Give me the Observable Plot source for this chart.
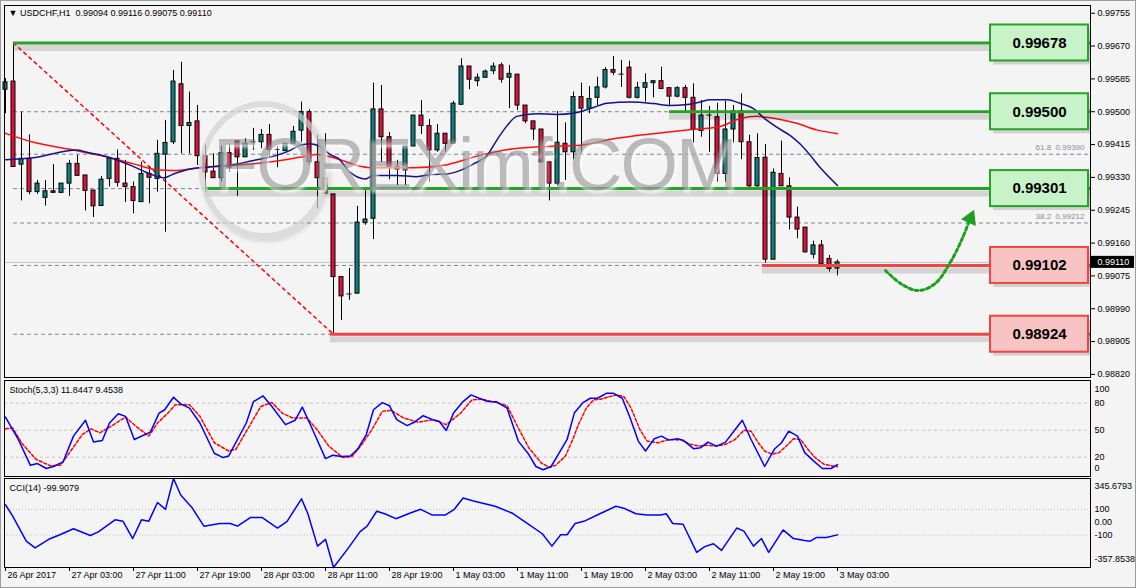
<!DOCTYPE html>
<html>
<head>
<meta charset="utf-8">
<script src="https://cdn.jsdelivr.net/npm/d3@7"></script>
<script src="https://cdn.jsdelivr.net/npm/@observablehq/plot@0.6"></script>
<style>
  html, body { margin: 0; padding: 0; background: #f0f0f0; }
  #chart { position: relative; width: 1136px; height: 588px; overflow: hidden; background: #f4f4f4; font-family: "Liberation Sans", Arial, sans-serif; }
  .panel { position: absolute; left: 0; }
  .panel svg { display: block; overflow: visible; }
  #border { position: absolute; left: 0; top: 0; right: 0; bottom: 0; border: 1px solid #9c9c9c; pointer-events: none; }
  #wm-circle { position: absolute; left: 199px; top: 101px; width: 118px; height: 126px; border-radius: 50%; border: 6px solid rgba(210,210,210,0.7); box-shadow: 2px 3px 4px rgba(0,0,0,0.12); }
  #wm-text { position: absolute; left: 213px; top: 128px; font-size: 74px; line-height: 74px; letter-spacing: -2px; color: rgba(110,110,110,0.45); font-family: "Liberation Sans", Arial, sans-serif; text-shadow: 2px 3px 3px rgba(255,255,255,0.6); white-space: nowrap; }
</style>
</head>
<body>
<div id="chart"></div>
<script>
// ---------------- data ----------------
const open = [0.99557,0.99578,0.99363,0.99378,0.99292,0.99277,0.99294,0.99290,0.99314,0.99365,
0.99335,0.99296,0.99256,0.99326,0.99378,0.99314,0.99305,0.99266,0.99339,0.99326,
0.99389,0.99421,0.99571,0.99463,0.99475,0.99385,0.99345,0.99328,0.99393,0.99423,
0.99382,0.99421,0.99421,0.99440,0.99401,0.99398,0.99417,0.99451,0.99499,0.99369,
0.99328,0.99286,0.99072,0.99027,0.99029,0.99212,0.99223,0.99506,0.99434,0.99357,
0.99348,0.99410,0.99490,0.99463,0.99400,0.99443,0.99417,0.99518,0.99617,0.99579,
0.99588,0.99605,0.99620,0.99588,0.99596,0.99516,0.99475,0.99454,0.99369,0.99314,
0.99417,0.99395,0.99538,0.99508,0.99536,0.99563,0.99608,0.99596,0.99614,0.99536,
0.99562,0.99574,0.99579,0.99561,0.99539,0.99561,0.99536,0.99450,0.99490,0.99486,
0.99339,0.99454,0.99501,0.99421,0.99307,0.99381,0.99117,0.99339,0.99307,0.99226,
0.99200,0.99130,0.99154,0.99119,0.99094];
const high = [0.99586,0.99678,0.99499,0.99440,0.99322,0.99322,0.99363,0.99314,0.99374,0.99387,
0.99335,0.99296,0.99332,0.99382,0.99401,0.99374,0.99318,0.99369,0.99357,0.99426,
0.99477,0.99607,0.99628,0.99551,0.99516,0.99413,0.99391,0.99410,0.99417,0.99423,
0.99430,0.99457,0.99454,0.99467,0.99410,0.99418,0.99462,0.99525,0.99505,0.99439,
0.99443,0.99286,0.99072,0.99094,0.99255,0.99300,0.99574,0.99568,0.99446,0.99374,
0.99410,0.99490,0.99529,0.99480,0.99467,0.99443,0.99527,0.99637,0.99617,0.99598,
0.99608,0.99626,0.99626,0.99620,0.99596,0.99516,0.99475,0.99454,0.99369,0.99501,
0.99471,0.99551,0.99574,0.99565,0.99589,0.99614,0.99643,0.99633,0.99631,0.99576,
0.99598,0.99581,0.99615,0.99561,0.99565,0.99568,0.99572,0.99529,0.99514,0.99522,
0.99527,0.99516,0.99546,0.99439,0.99443,0.99415,0.99352,0.99424,0.99329,0.99253,
0.99200,0.99165,0.99167,0.99128,0.99116];
const low = [0.99495,0.99356,0.99269,0.99285,0.99286,0.99256,0.99290,0.99288,0.99281,0.99334,
0.99243,0.99226,0.99256,0.99305,0.99305,0.99265,0.99236,0.99266,0.99262,0.99292,
0.99188,0.99415,0.99391,0.99391,0.99361,0.99292,0.99328,0.99318,0.99343,0.99281,
0.99382,0.99400,0.99404,0.99382,0.99355,0.99397,0.99417,0.99421,0.99361,0.99249,
0.99288,0.98924,0.98960,0.99012,0.99029,0.99206,0.99169,0.99369,0.99324,0.99309,
0.99309,0.99410,0.99441,0.99318,0.99395,0.99395,0.99417,0.99518,0.99557,0.99565,
0.99588,0.99596,0.99574,0.99508,0.99503,0.99469,0.99426,0.99367,0.99269,0.99309,
0.99322,0.99376,0.99391,0.99495,0.99516,0.99559,0.99594,0.99563,0.99533,0.99533,
0.99525,0.99536,0.99557,0.99516,0.99536,0.99499,0.99419,0.99434,0.99395,0.99318,
0.99318,0.99419,0.99376,0.99301,0.99301,0.99108,0.99117,0.99307,0.99194,0.99171,
0.99134,0.99119,0.99102,0.99085,0.99075];
const close = [0.99576,0.99357,0.99378,0.99292,0.99314,0.99294,0.99290,0.99314,0.99365,0.99334,
0.99295,0.99255,0.99324,0.99378,0.99316,0.99305,0.99269,0.99339,0.99329,0.99391,
0.99419,0.99578,0.99463,0.99471,0.99385,0.99343,0.99328,0.99393,0.99354,0.99382,
0.99417,0.99421,0.99440,0.99401,0.99401,0.99417,0.99448,0.99499,0.99369,0.99328,
0.99288,0.99072,0.99022,0.99027,0.99213,0.99221,0.99506,0.99434,0.99357,0.99350,
0.99410,0.99490,0.99463,0.99400,0.99443,0.99417,0.99521,0.99617,0.99583,0.99588,
0.99604,0.99617,0.99583,0.99598,0.99516,0.99475,0.99454,0.99369,0.99314,0.99420,
0.99395,0.99538,0.99508,0.99533,0.99563,0.99608,0.99601,0.99596,0.99536,0.99562,
0.99574,0.99579,0.99559,0.99539,0.99561,0.99536,0.99454,0.99490,0.99490,0.99339,
0.99454,0.99501,0.99421,0.99307,0.99380,0.99117,0.99342,0.99307,0.99226,0.99195,
0.99136,0.99154,0.99105,0.99093,0.99110];

// moving averages: [bar, price]
const maFast = [[0,0.99376],[3.5,0.99381],[8.9,0.99401],[10.2,0.99395],[13.1,0.99381],[16,0.99358],[18.1,0.99339],[19.8,0.99329],[21,0.99339],[23.1,0.99352],[26,0.99358],[28.5,0.99363],[31,0.99374],[33.9,0.99387],[35.6,0.99400],[36.8,0.99413],[38.1,0.99417],[39.3,0.99410],[40.6,0.99389],[41.6,0.99379],[43.1,0.99343],[45,0.99326],[46,0.99335],[48.9,0.99335],[51.4,0.99332],[53.1,0.99337],[55.2,0.99339],[57.3,0.99352],[58.5,0.99365],[60.2,0.99387],[61.4,0.99426],[62.7,0.99464],[63.9,0.99488],[66.4,0.99495],[68.9,0.99493],[71,0.99496],[73.1,0.99508],[75.2,0.99522],[78.1,0.99525],[81,0.99521],[83.1,0.99516],[85.2,0.99519],[86.8,0.99525],[88.1,0.99531],[90.2,0.99531],[91.8,0.99522],[93.5,0.99508],[94.8,0.99484],[96.4,0.99460],[98.1,0.99438],[99.3,0.99417],[100.6,0.99387],[101.8,0.99356],[104,0.99309]];
const maSlow = [[0,0.99444],[3.5,0.99421],[7.7,0.99404],[11.8,0.99387],[16,0.99365],[18.9,0.99350],[21,0.99348],[24.3,0.99355],[28.5,0.99361],[32.7,0.99369],[36.8,0.99382],[38.9,0.99389],[41.8,0.99376],[43.9,0.99361],[45.6,0.99355],[51,0.99355],[55.2,0.99363],[59.3,0.99387],[63.5,0.99404],[67.7,0.99410],[71.8,0.99413],[76,0.99430],[78.1,0.99436],[81,0.99443],[85.2,0.99453],[89.3,0.99462],[91.8,0.99482],[93.9,0.99488],[96.4,0.99482],[98.9,0.99470],[101.4,0.99453],[104,0.99443]];

// stochastic %K and %D, CCI: [bar, value]
const stochK = [[0,64.6],[1.6,39.7],[3.1,11.2],[4,13.0],[5.1,7.5],[6,9.7],[7.2,14.9],[8.5,43.4],[10,61.0],[11,36.8],[12.1,38.6],[13,58.0],[14.1,68.3],[15,65.4],[16.1,39.7],[18.1,47.8],[19.2,69.0],[19.9,72.7],[21,86.6],[21.9,79.3],[23,74.5],[24.3,58.0],[26.1,24.4],[27.2,19.6],[27.9,21.4],[30.1,58.0],[31,81.8],[32.2,88.1],[33.3,76.3],[35,56.2],[36.2,61.0],[37.1,75.6],[38.2,54.4],[40,18.5],[40.9,22.2],[42,20.7],[43.1,21.4],[44,28.8],[45.1,45.2],[46,72.7],[47.1,80.7],[48,77.1],[48.9,61.7],[50.2,55.1],[51.1,58.8],[52.2,66.1],[53.4,61.7],[54.2,59.9],[55.1,49.6],[56,69.0],[57.2,81.8],[58.2,89.2],[59.2,85.5],[60.3,81.8],[61.4,81.5],[62.7,74.5],[64.1,37.9],[65.4,23.3],[66.3,9.7],[67.2,6.1],[68.2,9.7],[69.1,23.3],[70.2,39.7],[71.1,69.0],[72.2,80.7],[73.1,85.5],[74,85.5],[75.1,91.0],[76,91.0],[77.1,85.5],[78,65.4],[79.1,37.9],[80,26.9],[81.1,40.5],[82,43.4],[82.9,39.0],[84,40.5],[84.7,39.0],[86,29.5],[86.9,30.6],[87.8,36.8],[88.9,32.4],[90,36.8],[90.9,47.1],[92.1,61.0],[93.2,39.7],[94.9,9.7],[96.1,28.8],[97,36.1],[97.9,48.9],[99,43.4],[99.9,25.1],[101,16.0],[102.1,7.5],[103.2,7.5],[104,11.8]];
const stochD = [[0,51.5],[0.9,52.5],[2,36.1],[3.8,17.8],[5.6,10.5],[6.9,11.2],[8.3,28.8],[9.6,45.2],[10.7,51.5],[11.8,47.1],[13.2,54.4],[15,64.6],[16.3,54.4],[17.9,43.4],[19,58.0],[20.3,69.0],[21.2,78.2],[23,78.2],[24.3,65.4],[26.1,36.1],[27.9,26.9],[28.8,28.8],[30.6,56.2],[31.9,76.3],[33.3,80.7],[34.6,69.0],[35.9,63.5],[37.7,63.5],[39.1,48.9],[40.4,32.4],[42.2,19.6],[43.3,20.7],[44.4,32.4],[45.8,50.7],[47.1,70.9],[48.2,71.9],[49.8,63.5],[51.6,58.8],[53.4,61.7],[55.1,56.2],[56.9,69.0],[58.3,83.7],[59.6,84.4],[61.4,80.7],[62.7,77.1],[64.1,52.5],[65.4,30.6],[67,13.4],[68,8.6],[68.8,11.2],[70,21.4],[70.9,39.7],[71.7,58.0],[72.6,74.5],[73.5,83.7],[74.4,84.4],[75.5,87.3],[76.4,89.2],[77.3,87.3],[78.2,74.5],[79.3,50.7],[80.2,37.9],[81.6,36.1],[82.9,39.7],[84.5,39.0],[85.6,34.3],[86.7,32.4],[87.8,33.2],[88.9,32.4],[90,34.3],[91.2,39.7],[92.3,50.0],[93.2,48.9],[94.1,36.1],[94.9,26.9],[95.8,23.3],[96.7,25.1],[97.6,32.4],[98.5,40.5],[99.4,39.7],[100.3,28.8],[101.2,19.6],[102.3,12.3],[103.2,10.5],[104,9.5]];
const cci = [[0,138],[0.9,49],[2.6,-150],[3.7,-203],[5.4,-135],[6.8,-99],[8.5,-52],[10.6,-105],[11.6,-76],[13.7,19],[14.7,7],[15.9,-129],[17,19],[17.9,7],[19,156],[20,102],[21,345.7],[21.9,215],[23.3,117],[24.8,-31],[26.8,-10],[28.1,-10],[29,-31],[30.6,37],[32.1,37],[34,-46],[35.2,7],[37,185],[37.8,67],[39,-189],[40,-135],[41,-357.8],[42.8,-209],[44.3,-76],[45.2,-31],[46.4,87],[47.4,67],[48.8,28],[50.6,73],[51.9,102],[53.3,58],[55,58],[56.1,102],[57.2,191],[58.5,168],[61.2,126],[63.3,73],[65.4,-16],[67.1,-91],[68.3,-189],[69.4,-99],[70.2,-99],[71.2,-10],[72.3,7],[74.3,67],[76.3,126],[77.4,108],[78.8,67],[80.2,58],[81.9,58],[82.6,67],[83.4,-10],[84.7,-16],[86.4,-238],[87.4,-193],[88.5,-170],[89.5,-223],[91.4,-46],[92.3,-70],[93.5,-189],[94.5,-129],[95.4,-238],[97.2,-61],[98.5,-129],[99.9,-144],[100.6,-150],[101.4,-120],[102.6,-120],[104,-99.9]];

const priceTicks = [0.99755,0.99670,0.99585,0.99500,0.99415,0.99330,0.99245,0.99160,0.99075,0.98990,0.98905,0.98820];
const timeTickBars = [0,8,16,24,32,40,48,56,64,72,80,88,96,104];
const timeTickLabels = ["26 Apr 2017","27 Apr 03:00","27 Apr 11:00","27 Apr 19:00","28 Apr 03:00","28 Apr 11:00","28 Apr 19:00","1 May 03:00","1 May 11:00","1 May 19:00","2 May 03:00","2 May 11:00","2 May 19:00","3 May 03:00"];

const levelPrices = [0.99678, 0.99500, 0.99301, 0.99102, 0.98924];
const levelStart = [1, 83, 25, 94.6, 40.6];
const levelSide = ["resistance","resistance","resistance","support","support"];

const fibPrices = [0.99678, 0.99500, 0.99390, 0.99301, 0.99212, 0.99102, 0.98924];
const fibLabels = ["100.0  0.99678","76.4  0.99500","61.8  0.99390","50.0  0.99301","38.2  0.99212","23.6  0.99102","0.0  0.98924"];
const fibAnchor = [[1, 0.99678], [41, 0.98924]];

const arrowPath = [[110,0.99089],[111.9,0.99055],[114.1,0.99037],[116.2,0.99055],[118.1,0.99110],[119.6,0.99172],[120.6,0.99224]];

const header = "\u25BC USDCHF,H1\u00a0 0.99094 0.99116 0.99075 0.99110";
const stochTitle = "Stoch(5,3,3) 11.8447 9.4538";
const cciTitle = "CCI(14) -99.9079";
const stochLevels = [80, 50, 20];
const cciLevels = [100, -100];
const cciRange = [-357.8538, 345.6793];

// ---------------- drawing ----------------
const W = 1136;
const xDomain = [-0.125, 135.625];
const font = '"Liberation Sans", Arial, sans-serif';
const bull = "#0f8080", bear = "#dc143c";
const green = "#26a326", red = "#ef4545";
const baseStyle = {background: "none", fontFamily: font, fontSize: "9px", color: "#000", overflow: "visible"};

const candles = open.map((o, i) => ({i, o, h: high[i], l: low[i], c: close[i]}));
const ups = candles.filter(d => d.c > d.o);
const downs = candles.filter(d => d.c < d.o);
const flats = candles.filter(d => d.c === d.o);
const levels = levelPrices.map((v, i) => ({v, from: levelStart[i], side: levelSide[i]}));
const res = levels.filter(d => d.side === "resistance");
const sup = levels.filter(d => d.side === "support");
const fib = fibPrices.map((v, i) => ({v, label: fibLabels[i]}));
// fib labels that sit under a level box are hidden by it in the reference
const fibVisible = fib.filter(d => !levelPrices.includes(d.v));
const lastClose = close[close.length - 1];
const tip = arrowPath[arrowPath.length - 1];
const timeLabel = new Map(timeTickBars.map((b, i) => [b, timeTickLabels[i]]));
const P0 = d => d[0], P1 = d => d[1];

const boxOpts = {y1: "v", y2: "v", insetTop: -18, insetBottom: -18, insetLeft: 986, insetRight: 2};

const mainPlot = Plot.plot({
  width: W, height: 379,
  marginLeft: 4, marginRight: 46, marginTop: 5, marginBottom: 2,
  x: {domain: xDomain, axis: null},
  y: {domain: [0.98812, 0.99775], axis: null},
  style: baseStyle,
  marks: [
    Plot.ruleY(fib, {y: "v", x1: fibAnchor[0][0], x2: xDomain[1], stroke: "#7b8795", strokeDasharray: "4,3"}),
    Plot.text(fibVisible, {y: "v", text: "label", frameAnchor: "right", dx: -6, dy: -7, textAnchor: "end", fill: "#8c8c8c", fontSize: 8}),
    Plot.ruleY([lastClose], {stroke: "#c3c3c3"}),
    Plot.line(fibAnchor, {x: P0, y: P1, stroke: "#ff0000", strokeDasharray: "3,4"}),
    Plot.ruleX(candles, {x: "i", y1: "l", y2: "h", stroke: "#000"}),
    Plot.rect(ups, {x1: "i", x2: "i", y1: "o", y2: "c", insetLeft: -2, insetRight: -2, fill: bull, stroke: "#000"}),
    Plot.rect(downs, {x1: "i", x2: "i", y1: "o", y2: "c", insetLeft: -2, insetRight: -2, fill: bear, stroke: "#000"}),
    Plot.rect(flats, {x1: "i", x2: "i", y1: "o", y2: "c", insetLeft: -2.5, insetRight: -2.5, insetTop: -0.5, insetBottom: -0.5, fill: "#000"}),
    Plot.line(maSlow, {x: P0, y: P1, stroke: "#ff1010", curve: "monotone-x"}),
    Plot.line(maFast, {x: P0, y: P1, stroke: "#12128c", curve: "monotone-x"}),
    Plot.ruleY(levels, {y: "v", x1: "from", x2: xDomain[1], stroke: "#000", strokeOpacity: 0.13, strokeWidth: 6, dy: 5}),
    Plot.ruleY(res, {y: "v", x1: "from", x2: xDomain[1], stroke: green, strokeWidth: 3}),
    Plot.ruleY(sup, {y: "v", x1: "from", x2: xDomain[1], stroke: red, strokeWidth: 3}),
    Plot.line(arrowPath, {x: P0, y: P1, curve: "catmull-rom", stroke: "#1f9f1f", strokeWidth: 3, strokeDasharray: "3,3"}),
    Plot.dot([tip], {x: P0, y: P1, symbol: "triangle", r: 6, rotate: 24, fill: "#1f9f1f", stroke: "none"}),
    Plot.rect(levels, {...boxOpts, fill: "#000", fillOpacity: 0.14, dx: 3, dy: 4}),
    Plot.rect(res, {...boxOpts, fill: "#c8f2c8", stroke: green, strokeWidth: 2}),
    Plot.rect(sup, {...boxOpts, fill: "#f7c3c3", stroke: red, strokeWidth: 2}),
    Plot.text(levels, {y: "v", text: d => d.v.toFixed(5), frameAnchor: "right", dx: -51, textAnchor: "middle", fontSize: 15, fontWeight: "bold", fill: "#000"}),
    Plot.frame({stroke: "#000"}),
    Plot.axisY({anchor: "right", ticks: priceTicks, tickFormat: d => d.toFixed(5), tickSize: 4, tickPadding: 3}),
    Plot.rect([lastClose], {y1: d => d, y2: d => d, insetTop: -6, insetBottom: -6, insetLeft: 1087, insetRight: -44, fill: "#000"}),
    Plot.text([lastClose], {y: d => d, text: d => d.toFixed(5), frameAnchor: "right", dx: 7, textAnchor: "start", fill: "#fff"}),
    Plot.text([header], {frameAnchor: "top-left", dx: 4, dy: 4, textAnchor: "start", lineAnchor: "top"})
  ]
});

const stochPlot = Plot.plot({
  width: W, height: 98,
  marginLeft: 4, marginRight: 46, marginTop: 1, marginBottom: 1,
  x: {domain: xDomain, axis: null},
  y: {domain: [-1.4, 105.2], axis: null},
  style: baseStyle,
  marks: [
    Plot.ruleY(stochLevels, {stroke: "#c2c2c2", strokeDasharray: "3,3"}),
    Plot.line(stochD, {x: P0, y: P1, stroke: "#ff0000", strokeDasharray: "3,2"}),
    Plot.line(stochK, {x: P0, y: P1, stroke: "#0000ff"}),
    Plot.frame({stroke: "#000"}),
    Plot.axisY({anchor: "right", ticks: stochLevels, tickSize: 0, tickPadding: 4}),
    Plot.axisY({anchor: "right", ticks: [100], tickSize: 0, tickPadding: 4, dy: 4}),
    Plot.axisY({anchor: "right", ticks: [0], tickSize: 0, tickPadding: 4, dy: -7}),
    Plot.text([stochTitle], {frameAnchor: "top-left", dx: 5, dy: 6, textAnchor: "start", lineAnchor: "top"})
  ]
});

const cciPlot = Plot.plot({
  width: W, height: 111,
  marginLeft: 4, marginRight: 46, marginTop: 1, marginBottom: 21,
  x: {domain: xDomain, axis: null},
  y: {domain: cciRange, axis: null},
  style: baseStyle,
  marks: [
    Plot.ruleY(cciLevels, {stroke: "#c2c2c2", strokeDasharray: "1,2"}),
    Plot.line(cci, {x: P0, y: P1, stroke: "#0000ff"}),
    Plot.frame({stroke: "#000"}),
    Plot.axisY({anchor: "right", ticks: [100, 0, -100], tickFormat: d => d === 0 ? "0.00" : String(d), tickSize: 0, tickPadding: 4}),
    Plot.axisY({anchor: "right", ticks: [cciRange[1]], tickFormat: d => d.toFixed(4), tickSize: 0, tickPadding: 4, dy: 8}),
    Plot.axisY({anchor: "right", ticks: [cciRange[0]], tickFormat: d => d.toFixed(4), tickSize: 0, tickPadding: 4, dy: -8}),
    Plot.axisX({anchor: "bottom", ticks: timeTickBars, tickFormat: () => "", tickSize: 4}),
    Plot.axisX({anchor: "bottom", ticks: timeTickBars, tickFormat: d => timeLabel.get(d), tickSize: 0, tickPadding: 4, textAnchor: "start", dx: 2}),
    Plot.text([cciTitle], {frameAnchor: "top-left", dx: 5, dy: 6, textAnchor: "start", lineAnchor: "top"})
  ]
});

const chart = document.getElementById("chart");
function place(node, top) {
  const d = document.createElement("div");
  d.className = "panel";
  d.style.top = top + "px";
  d.appendChild(node);
  chart.appendChild(d);
}
place(mainPlot, 0);
place(stochPlot, 379);
place(cciPlot, 477);

const wmc = document.createElement("div"); wmc.id = "wm-circle"; chart.appendChild(wmc);
const wmt = document.createElement("div"); wmt.id = "wm-text"; wmt.textContent = "FOREXimf.COM"; chart.appendChild(wmt);
const b = document.createElement("div"); b.id = "border"; chart.appendChild(b);
</script>
</body>
</html>
